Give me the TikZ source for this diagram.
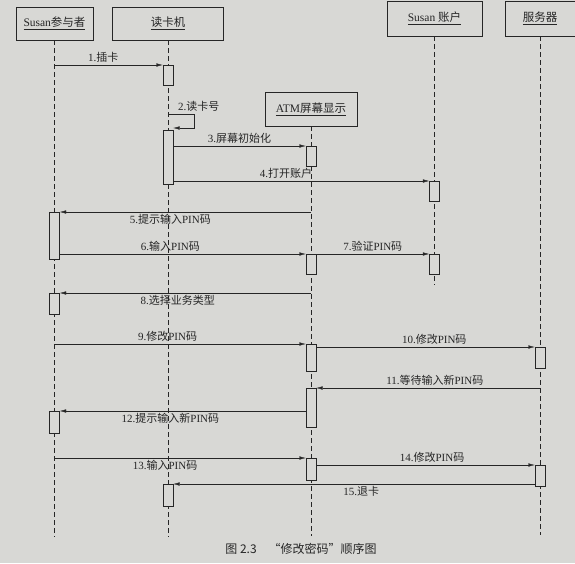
\documentclass[tikz,border=0pt]{standalone}
\usepackage{fontspec}
\setmainfont{Liberation Serif}
\newfontfamily\zhfont{Noto Sans CJK SC}
\newcommand{\zh}[1]{{\zhfont #1}}
\usepackage{tikz}
\usetikzlibrary{positioning}
\usetikzlibrary{arrows.meta}
\definecolor{paper}{RGB}{216,216,213}
\definecolor{ink}{RGB}{38,38,38}
\tikzset{
	obj/.style={rectangle, draw=ink, fill=paper, text=ink, minimum height=33pt, inner sep=0pt, font=\fontsize{11.5}{13}\selectfont},
	life/.style={draw=ink, dash pattern=on 5pt off 3pt},
	act/.style={rectangle, draw=ink, fill=paper, minimum width=10pt, inner sep=0pt, anchor=north},
	msg/.style={draw=ink, -{Latex[length=6.5pt,width=3.5pt]}},
	lbl/.style={font=\fontsize{11}{12}\selectfont, text=ink, inner sep=2pt},
}

\begin{document}
\begin{tikzpicture}[x=1pt,y=1pt]
		\fill[paper] (0,0) rectangle (575,-563);
		\useasboundingbox (0,0) rectangle (575,-563);
		% objects
		\node[obj, minimum width=77pt] (SusanHead) at (54.5,-23.5) {\underline{Susan\zh{参与者}}};
		\node[obj, minimum width=111pt] (ReaderHead) at (168,-23.5) {\underline{\zh{读卡机}}};
		\node[obj, minimum width=92pt, minimum height=34pt] (ScreenHead) at (311,-109) {\underline{ATM\zh{屏幕显示}}};
		\node[obj, minimum width=95pt, minimum height=35pt] (AccountHead) at (434.5,-18.5) {\underline{Susan \zh{账户}}};
		\node[obj, minimum width=70pt, minimum height=35pt] (ServerHead) at (540,-18.5) {\underline{\zh{服务器}}};
		% lifelines
		\coordinate (SusanEnd) at (54.5,-537);
		\coordinate (ReaderEnd) at (168,-537);
		\coordinate (ScreenEnd) at (311,-536);
		\coordinate (AccountEnd) at (434.5,-285);
		\coordinate (ServerEnd) at (540,-535);
		\draw[life] (SusanHead) -- (SusanEnd);
		\draw[life] (ReaderHead) -- (ReaderEnd);
		\draw[life] (ScreenHead) -- (ScreenEnd);
		\draw[life] (AccountHead) -- (AccountEnd);
		\draw[life] (ServerHead) -- (ServerEnd);
		% activations
		\node[act, minimum height=20pt] (ReaderAct1) at (168,-65) {};
		\node[act, minimum height=54pt] (ReaderAct2) at (168,-130) {};
		\node[act, minimum height=20pt] (ScreenAct1) at (311,-146) {};
		\node[act, minimum height=20pt] (AccountAct1) at (434.5,-181) {};
		\node[act, minimum height=47pt] (SusanAct1) at (54.5,-212) {};
		\node[act, minimum height=20pt] (ScreenAct2) at (311,-254) {};
		\node[act, minimum height=20pt] (AccountAct2) at (434.5,-254) {};
		\node[act, minimum height=21pt] (SusanAct2) at (54.5,-293) {};
		\node[act, minimum height=27pt] (ScreenAct3) at (311,-344) {};
		\node[act, minimum height=21pt] (ServerAct1) at (540,-347) {};
		\node[act, minimum height=39pt] (ScreenAct4) at (311,-388) {};
		\node[act, minimum height=22pt] (SusanAct3) at (54.5,-411) {};
		\node[act, minimum height=22pt] (ScreenAct5) at (311,-458) {};
		\node[act, minimum height=21pt] (ServerAct2) at (540,-465) {};
		\node[act, minimum height=22pt] (ReaderAct3) at (168,-484) {};
		% messages
		\draw[msg] (SusanHead |- ReaderAct1.north) -- node[lbl, above, pos=0.45] {1.\zh{插卡}} (ReaderAct1.north west);
		\draw[msg] ([yshift=16pt]ReaderAct2.north) -- node[lbl, above right, pos=0.3] {2.\zh{读卡号}} ++(26,0) |- ([yshift=2pt]ReaderAct2.north east);
		\draw[msg] (ReaderAct2.east |- ScreenAct1.north) -- node[lbl, above] {3.\zh{屏幕初始化}} (ScreenAct1.north west);
		\draw[msg] (ReaderAct2.east |- AccountAct1.north) -- node[lbl, above, pos=0.44] {4.\zh{打开账户}} (AccountAct1.north west);
		\draw[msg] (ScreenHead |- SusanAct1.north) -- node[lbl, below, pos=0.56] {5.\zh{提示输入}PIN\zh{码}} (SusanAct1.north east);
		\draw[msg] (SusanAct1.east |- ScreenAct2.north) -- node[lbl, above, pos=0.45] {6.\zh{输入}PIN\zh{码}} (ScreenAct2.north west);
		\draw[msg] (ScreenAct2.north east) -- node[lbl, above] {7.\zh{验证}PIN\zh{码}} (AccountAct2.north west);
		\draw[msg] (ScreenHead |- SusanAct2.north) -- node[lbl, below, pos=0.53] {8.\zh{选择业务类型}} (SusanAct2.north east);
		\draw[msg] (SusanHead |- ScreenAct3.north) -- node[lbl, above, pos=0.45] {9.\zh{修改}PIN\zh{码}} (ScreenAct3.north west);
		\draw[msg] (ScreenAct3.east |- ServerAct1.north) -- node[lbl, above, pos=0.54] {10.\zh{修改}PIN\zh{码}} (ServerAct1.north west);
		\draw[msg] (ServerHead |- ScreenAct4.north) -- node[lbl, above, pos=0.47] {11.\zh{等待输入新}PIN\zh{码}} (ScreenAct4.north east);
		\draw[msg] (ScreenAct4.west |- SusanAct3.north) -- node[lbl, below, pos=0.55] {12.\zh{提示输入新}PIN\zh{码}} (SusanAct3.north east);
		\draw[msg] (SusanHead |- ScreenAct5.north) -- node[lbl, below, pos=0.44] {13.\zh{输入}PIN\zh{码}} (ScreenAct5.north west);
		\draw[msg] (ScreenAct5.east |- ServerAct2.north) -- node[lbl, above, pos=0.53] {14.\zh{修改}PIN\zh{码}} (ServerAct2.north west);
		\draw[msg] (ServerAct2.west |- ReaderAct3.north) -- node[lbl, below, pos=0.48] {15.\zh{退卡}} (ReaderAct3.north east);
		% caption
		\node[font=\fontsize{12}{14}\selectfont, text=ink] (Caption) at (301,-549) {\zh{图 2.3\quad “修改密码”顺序图}};
	\end{tikzpicture}
\end{document}
